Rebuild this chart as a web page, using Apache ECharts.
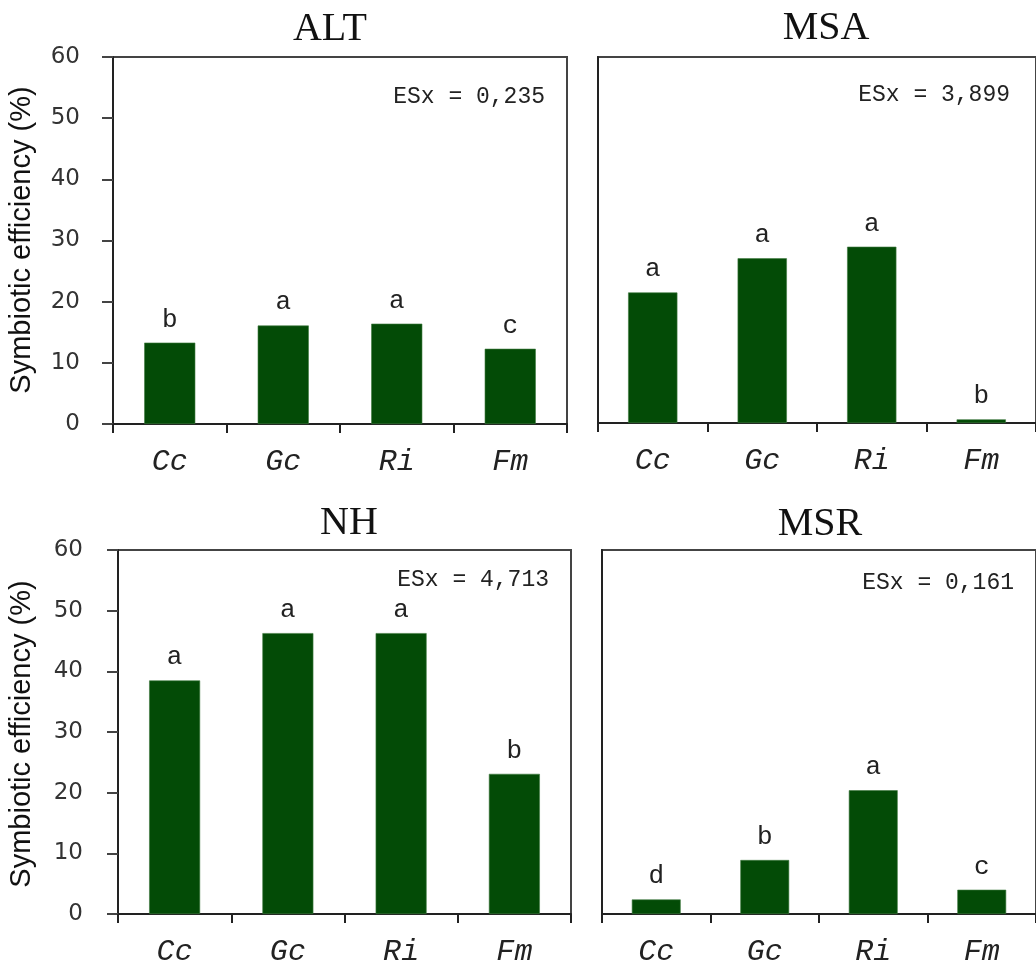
<!DOCTYPE html>
<html>
<head>
<meta charset="utf-8">
<script src="https://cdn.jsdelivr.net/npm/echarts@6/dist/echarts.min.js"></script>
<style>html,body{margin:0;padding:0;background:#fff;}#c{width:1036px;height:967px;}</style>
</head>
<body>
<div id="c"></div>
<script>
var categories = ['Cc', 'Gc', 'Ri', 'Fm'];
var yTicks = [0, 10, 20, 30, 40, 50, 60];
var panelNames = ['ALT', 'MSA', 'NH', 'MSR'];
var altValues = [13.3, 16.1, 16.4, 12.3];
var msaValues = [21.4, 27.0, 28.9, 0.6];
var nhValues = [38.5, 46.3, 46.3, 23.1];
var msrValues = [2.4, 8.9, 20.4, 4.0];
var altLetters = ['b', 'a', 'a', 'c'];
var msaLetters = ['a', 'a', 'a', 'b'];
var nhLetters = ['a', 'a', 'a', 'b'];
var msrLetters = ['d', 'b', 'a', 'c'];
var esxTexts = ['ESx = 0,235', 'ESx = 3,899', 'ESx = 4,713', 'ESx = 0,161'];
var yTitle = 'Symbiotic efficiency (%)';

var values = [altValues, msaValues, nhValues, msrValues];
var letters = [altLetters, msaLetters, nhLetters, msrLetters];

var grids = [
  {left: 113, top: 57, width: 454, height: 367},
  {left: 598, top: 57, width: 444, height: 366},
  {left: 118, top: 550, width: 453, height: 368},
  {left: 602, top: 550, width: 444, height: 367}
];
var showY = [true, false, true, false];
var yMargins = [33, 33, 35, 35];
var titlePos = [[330, 29], [826, 28], [349, 523], [820, 524]];
var esxPos = [[545, 97], [1010, 95], [549, 580], [1014, 583]];
var yTitlePos = [[22, 240], [22, 734]];

var chart = echarts.init(document.getElementById('c'));
var option = {
  animation: false,
  backgroundColor: '#fff',
  grid: grids.map(function (g) {
    return {left: g.left, top: g.top, width: g.width, height: g.height,
      show: true, borderColor: '#444', borderWidth: 2, backgroundColor: 'transparent', containLabel: false};
  }),
  xAxis: grids.map(function (g, i) {
    return {
      type: 'category', gridIndex: i, data: categories, boundaryGap: true,
      axisLine: {show: true, lineStyle: {color: '#222', width: 2}},
      axisTick: {show: true, length: 9, inside: false, lineStyle: {color: '#222', width: 2}},
      axisLabel: {show: true, margin: 23, fontFamily: "'Courier New', 'Liberation Mono', monospace",
        fontStyle: 'italic', fontSize: 30, color: '#222'},
      splitLine: {show: false}
    };
  }),
  yAxis: grids.map(function (g, i) {
    return {
      type: 'value', gridIndex: i, min: yTicks[0], max: yTicks[yTicks.length - 1], interval: yTicks[1] - yTicks[0],
      axisLine: {show: true, lineStyle: {color: '#222', width: 2}},
      axisTick: {show: showY[i], length: 11, lineStyle: {color: '#444', width: 2}},
      axisLabel: {show: showY[i], margin: yMargins[i], fontFamily: "'DejaVu Sans', Verdana, sans-serif",
        fontSize: 23, color: '#333'},
      splitLine: {show: false}
    };
  }),
  series: values.map(function (v, i) {
    return {
      type: 'bar', xAxisIndex: i, yAxisIndex: i, data: v, barWidth: '45%',
      itemStyle: {color: '#034b06', borderColor: '#3f7a3f', borderWidth: 0.6},
      label: {show: true, position: 'top', distance: 10,
        fontFamily: "'Courier New', 'Liberation Mono', monospace", fontSize: 26, color: '#222',
        formatter: (function (idx) { return function (p) { return letters[idx][p.dataIndex]; }; })(i)}
    };
  }),
  graphic: []
};

panelNames.forEach(function (n, i) {
  option.graphic.push({type: 'text', x: titlePos[i][0], y: titlePos[i][1],
    style: {text: n, fontFamily: "'Liberation Serif', 'Times New Roman', serif", fontSize: 40,
      fill: '#111', align: 'center', verticalAlign: 'middle'}});
  option.graphic.push({type: 'text', x: esxPos[i][0], y: esxPos[i][1],
    style: {text: esxTexts[i], fontFamily: "'Courier New', 'Liberation Mono', monospace", fontSize: 23,
      fill: '#222', align: 'right', verticalAlign: 'middle'}});
});
yTitlePos.forEach(function (p) {
  option.graphic.push({type: 'text', x: p[0], y: p[1], rotation: Math.PI / 2,
    style: {text: yTitle, fontFamily: "'Liberation Sans', Arial, sans-serif", fontSize: 29,
      fill: '#111', align: 'center', verticalAlign: 'middle'}});
});

chart.setOption(option);
</script>
</body>
</html>
